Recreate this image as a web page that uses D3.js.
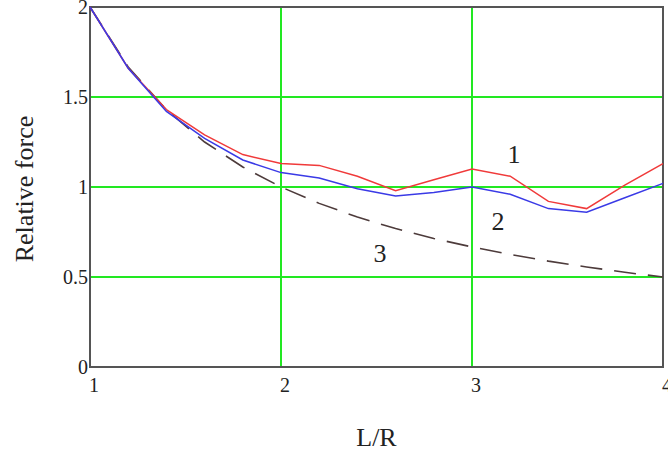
<!DOCTYPE html>
<html>
<head>
<meta charset="utf-8">
<script src="https://cdn.jsdelivr.net/npm/d3@7"></script>
<style>
  body { margin: 0; background: #fff; }
  text { font-family: "Liberation Serif", "DejaVu Serif", serif; fill: #222; }
</style>
</head>
<body>
<div id="chart"></div>
<script>
// chart skeleton
const width = 668,
    height = 455,
    margin = ({ top: 7, right: 5, bottom: 88, left: 90 });

// data (L/R steps of 0.2)
const lr = [1, 1.2, 1.4, 1.6, 1.8, 2, 2.2, 2.4, 2.6, 2.8, 3, 3.2, 3.4, 3.6, 3.8, 4];
const curve1 = [2, 1.66, 1.43, 1.29, 1.18, 1.13, 1.12, 1.06, 0.98, 1.04, 1.10, 1.06, 0.92, 0.88, 1.01, 1.13];
const curve2 = [2, 1.66, 1.42, 1.27, 1.15, 1.08, 1.05, 0.99, 0.95, 0.97, 1.00, 0.96, 0.88, 0.86, 0.94, 1.02];
const curve3 = [2, 1.667, 1.429, 1.25, 1.111, 1.0, 0.909, 0.833, 0.769, 0.714, 0.667, 0.625, 0.588, 0.556, 0.526, 0.5];
const xTicks = [1, 2, 3, 4];
const yTicks = [0, 0.5, 1, 1.5, 2];

const svg = d3.select("#chart")
    .append("svg")
    .attr("width", width)
    .attr("height", height);

let x = d3.scaleLinear()
    .domain([1, 4])
    .range([margin.left, width - margin.right]);

let y = d3.scaleLinear()
    .domain([0, 2])
    .range([height - margin.bottom, margin.top]);

// green grid
svg.append("g")
    .selectAll("line")
    .data(yTicks.filter(d => d > 0 && d < 2))
    .join("line")
    .attr("x1", x(1)).attr("x2", x(4))
    .attr("y1", d => y(d)).attr("y2", d => y(d))
    .attr("stroke", "#22e822")
    .attr("stroke-width", 2);

svg.append("g")
    .selectAll("line")
    .data(xTicks.filter(d => d > 1 && d < 4))
    .join("line")
    .attr("x1", d => x(d)).attr("x2", d => x(d))
    .attr("y1", y(0)).attr("y2", y(2))
    .attr("stroke", "#22e822")
    .attr("stroke-width", 2);

// frame
svg.append("rect")
    .attr("x", x(1))
    .attr("y", y(2))
    .attr("width", x(4) - x(1))
    .attr("height", y(0) - y(2))
    .attr("fill", "none")
    .attr("stroke", "#555")
    .attr("stroke-width", 2);

// tick labels
svg.append("g")
    .selectAll("text")
    .data(xTicks)
    .join("text")
    .attr("x", d => x(d) + 4)
    .attr("y", y(0) + 25)
    .attr("text-anchor", "middle")
    .style("font-size", "20px")
    .text(d => d);

svg.append("g")
    .selectAll("text")
    .data(yTicks)
    .join("text")
    .attr("x", x(1) - 2)
    .attr("y", d => y(d) + 7)
    .attr("text-anchor", "end")
    .style("font-size", "20px")
    .text(d => d);

// axis titles
svg.append("text")
    .attr("x", x(2.5))
    .attr("y", 446)
    .attr("text-anchor", "middle")
    .style("font-size", "26px")
    .text("L/R");

svg.append("text")
    .attr("transform", `translate(33,${y(1) + 2}) rotate(-90)`)
    .attr("text-anchor", "middle")
    .style("font-size", "26px")
    .text("Relative force");

// lines
let line = d3.line()
    .x((d, i) => x(lr[i]))
    .y(d => y(d));

svg.append("path")
    .datum(curve3)
    .attr("d", line)
    .attr("fill", "none")
    .attr("stroke", "#4d3b3b")
    .attr("stroke-width", 1.6)
    .attr("stroke-dasharray", "22,12");

svg.append("path")
    .datum(curve1)
    .attr("d", line)
    .attr("fill", "none")
    .attr("stroke", "#f03a3a")
    .attr("stroke-width", 1.5);

svg.append("path")
    .datum(curve2)
    .attr("d", line)
    .attr("fill", "none")
    .attr("stroke", "#3a3ae6")
    .attr("stroke-width", 1.5);

// curve labels
const curveLabels = [
    { t: "1", x: 3.22, y: 1.133 },
    { t: "2", x: 3.136, y: 0.761 },
    { t: "3", x: 2.518, y: 0.583 }
];
svg.append("g")
    .selectAll("text")
    .data(curveLabels)
    .join("text")
    .attr("x", d => x(d.x))
    .attr("y", d => y(d.y))
    .attr("text-anchor", "middle")
    .style("font-size", "26px")
    .text(d => d.t);
</script>
</body>
</html>
